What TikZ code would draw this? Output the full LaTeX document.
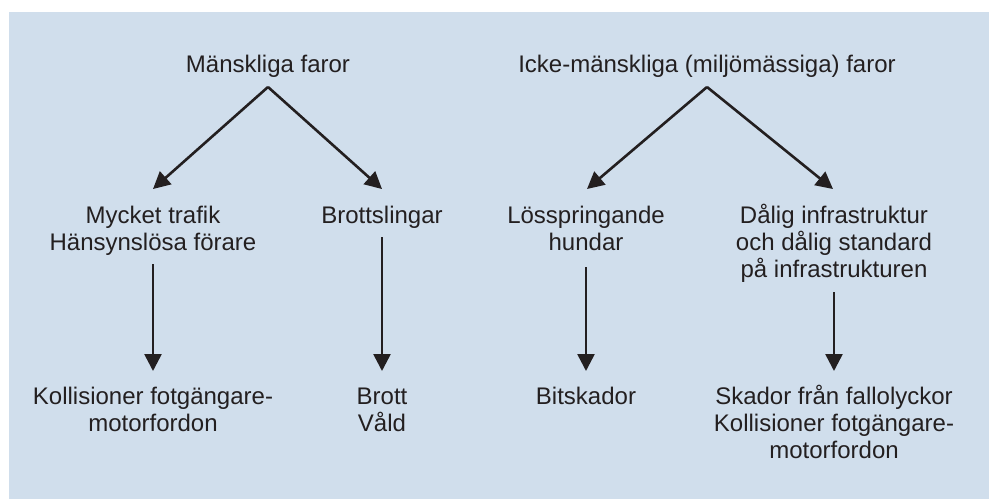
\documentclass[tikz,border=0pt]{standalone}
\usepackage{fontspec}
\setmainfont{Liberation Sans}
\usetikzlibrary{arrows.meta}
\definecolor{bgblue}{RGB}{208,222,236}
\definecolor{ink}{RGB}{35,31,32}
\begin{document}
\begin{tikzpicture}[x=1pt,y=-1pt,
  lbl/.style={anchor=base, align=center, inner sep=0pt, text=ink,
    font=\fontsize{24}{27}\selectfont},
  arr/.style={draw=ink, line width=2.6pt, -{Triangle[length=17pt,width=17pt]}}]
\useasboundingbox (0,0) rectangle (989,499);
\fill[bgblue] (9,12) rectangle (989,499);
% titles (anchor = baseline of the last line)
\node[lbl] (mansk) at (268,72) {Mänskliga faror};
\node[lbl] (icke) at (707,72) {Icke-mänskliga (miljömässiga) faror};
% second row
\node[lbl] (mycket) at (153,250) {Mycket trafik\\Hänsynslösa förare};
\node[lbl] (brottsl) at (382,223) {Brottslingar};
\node[lbl] (loss) at (586,250) {Lösspringande\\hundar};
\node[lbl] (dalig) at (834,277) {Dålig infrastruktur\\och dålig standard\\på infrastrukturen};
% third row
\node[lbl] (koll) at (153,431) {Kollisioner fotgängare-\\motorfordon};
\node[lbl] (brott) at (382,431) {Brott\\Våld};
\node[lbl] (bits) at (586,404) {Bitskador};
\node[lbl] (skador) at (834,458) {Skador från fallolyckor\\Kollisioner fotgängare-\\motorfordon};
% connector points
\coordinate (apexL) at (268,87);
\coordinate (apexR) at (707,87);
\coordinate (tMycket) at (153,189);
\coordinate (tBrottsl) at (382,189);
\coordinate (tLoss) at (587,189);
\coordinate (tDalig) at (833,189);
\coordinate (sMycket) at (153,264);
\coordinate (sBrottsl) at (382,237);
\coordinate (sLoss) at (586,267);
\coordinate (sDalig) at (834,292);
\coordinate (eKoll) at (153,371);
\coordinate (eBrott) at (382,371);
\coordinate (eBits) at (586,371);
\coordinate (eSkador) at (834,371);
% connectors
\draw[arr] (apexL) -- (tMycket);
\draw[arr] (apexL) -- (tBrottsl);
\draw[arr] (apexR) -- (tLoss);
\draw[arr] (apexR) -- (tDalig);
\draw[arr] (sMycket) -- (eKoll);
\draw[arr] (sBrottsl) -- (eBrott);
\draw[arr] (sLoss) -- (eBits);
\draw[arr] (sDalig) -- (eSkador);
\end{tikzpicture}
\end{document}
